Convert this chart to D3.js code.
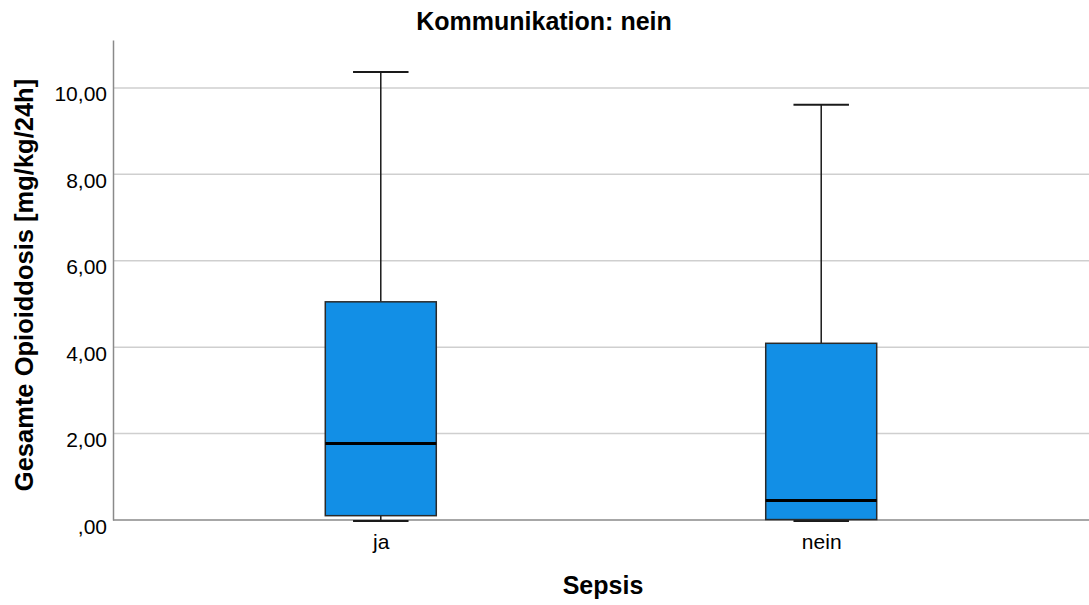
<!DOCTYPE html>
<html>
<head>
<meta charset="utf-8">
<script src="https://cdn.jsdelivr.net/npm/d3@7"></script>
<style>
  html, body { margin: 0; padding: 0; background: #fff; }
  svg { display: block; font-family: "Liberation Sans", Arial, sans-serif; }
</style>
</head>
<body>
<svg id="chart" width="1089" height="605"></svg>
<script>
const categories = ["ja", "nein"];
const whiskerLow = [0.0, 0.0];
const q1Values = [0.10, 0.01];
const medianValues = [1.77, 0.45];
const q3Values = [5.05, 4.09];
const whiskerHigh = [10.37, 9.61];
const yTicks = [0, 2, 4, 6, 8, 10];
const titleText = "Kommunikation: nein";
const xTitle = "Sepsis";
const yTitle = "Gesamte Opioiddosis [mg/kg/24h]";

const W = 1089, H = 605;
const m = { left: 113, right: 0, top: 40, bottom: 85 };
const svg = d3.select("#chart");

const x = d3.scalePoint().domain(categories).range([m.left, W - m.right]).padding(0.608);
const y = d3.scaleLinear().domain([0, 11.11]).range([H - m.bottom, m.top]);
const step = x.step();
const boxW = step * 0.252;
const capW = boxW / 2;

// gridlines
svg.append("g").selectAll("line").data(yTicks.filter(d => d > 0)).join("line")
  .attr("x1", m.left).attr("x2", W - m.right)
  .attr("y1", d => y(d)).attr("y2", d => y(d))
  .attr("stroke", "#cfcfcf").attr("stroke-width", 1.5);

// y axis
const yAxis = d3.axisLeft(y).tickValues(yTicks).tickSize(0).tickPadding(6)
  .tickFormat(d => d === 0 ? ",00" : d3.format(".2f")(d).replace(".", ","));
const gy = svg.append("g").attr("transform", `translate(${m.left},0)`).call(yAxis);
gy.select(".domain").attr("stroke", "#8a8a8a").attr("stroke-width", 1.5);
gy.selectAll("text").attr("font-size", 21).attr("fill", "#000").attr("dy", "0.62em")
  .attr("font-family", "Liberation Sans, Arial, sans-serif");

// x axis
const xAxis = d3.axisBottom(x).tickSize(0).tickPadding(14);
const gx = svg.append("g").attr("transform", `translate(0,${y(0)})`).call(xAxis);
gx.select(".domain").attr("stroke", "#8a8a8a").attr("stroke-width", 1.5)
  .attr("d", `M${m.left},0H${W - m.right}`);
gx.selectAll("text").attr("font-size", 21).attr("fill", "#000")
  .attr("font-family", "Liberation Sans, Arial, sans-serif");

// boxes
const data = categories.map((c, i) => ({
  c, lo: whiskerLow[i], q1: q1Values[i], med: medianValues[i], q3: q3Values[i], hi: whiskerHigh[i]
}));
const g = svg.append("g").selectAll("g").data(data).join("g");
g.append("line").attr("x1", d => x(d.c)).attr("x2", d => x(d.c))
  .attr("y1", d => y(d.hi)).attr("y2", d => y(d.q3)).attr("stroke", "#1a1a1a").attr("stroke-width", 1.5);
g.append("line").attr("x1", d => x(d.c)).attr("x2", d => x(d.c))
  .attr("y1", d => y(d.q1)).attr("y2", d => y(d.lo)).attr("stroke", "#1a1a1a").attr("stroke-width", 1.5);
g.append("line").attr("x1", d => x(d.c) - capW / 2).attr("x2", d => x(d.c) + capW / 2)
  .attr("y1", d => y(d.hi)).attr("y2", d => y(d.hi)).attr("stroke", "#1a1a1a").attr("stroke-width", 2);
g.append("line").attr("x1", d => x(d.c) - capW / 2).attr("x2", d => x(d.c) + capW / 2)
  .attr("y1", d => y(d.lo) + 1).attr("y2", d => y(d.lo) + 1).attr("stroke", "#1a1a1a").attr("stroke-width", 2);
g.append("rect").attr("x", d => x(d.c) - boxW / 2).attr("width", boxW)
  .attr("y", d => y(d.q3)).attr("height", d => y(d.q1) - y(d.q3))
  .attr("fill", "#128fe6").attr("stroke", "#2a2a2a").attr("stroke-width", 1.5);
g.append("line").attr("x1", d => x(d.c) - boxW / 2).attr("x2", d => x(d.c) + boxW / 2)
  .attr("y1", d => y(d.med)).attr("y2", d => y(d.med)).attr("stroke", "#000").attr("stroke-width", 3);

// titles
svg.append("text").attr("x", 544).attr("y", 30).attr("text-anchor", "middle")
  .attr("font-size", 25).attr("font-weight", "bold").attr("fill", "#000").text(titleText);
svg.append("text").attr("x", 603).attr("y", 594).attr("text-anchor", "middle")
  .attr("font-size", 25).attr("font-weight", "bold").attr("fill", "#000").text(xTitle);
svg.append("text").attr("transform", "translate(33,285) rotate(-90)").attr("text-anchor", "middle")
  .attr("font-size", 25.5).attr("font-weight", "bold").attr("fill", "#000").text(yTitle);
</script>
</body>
</html>
